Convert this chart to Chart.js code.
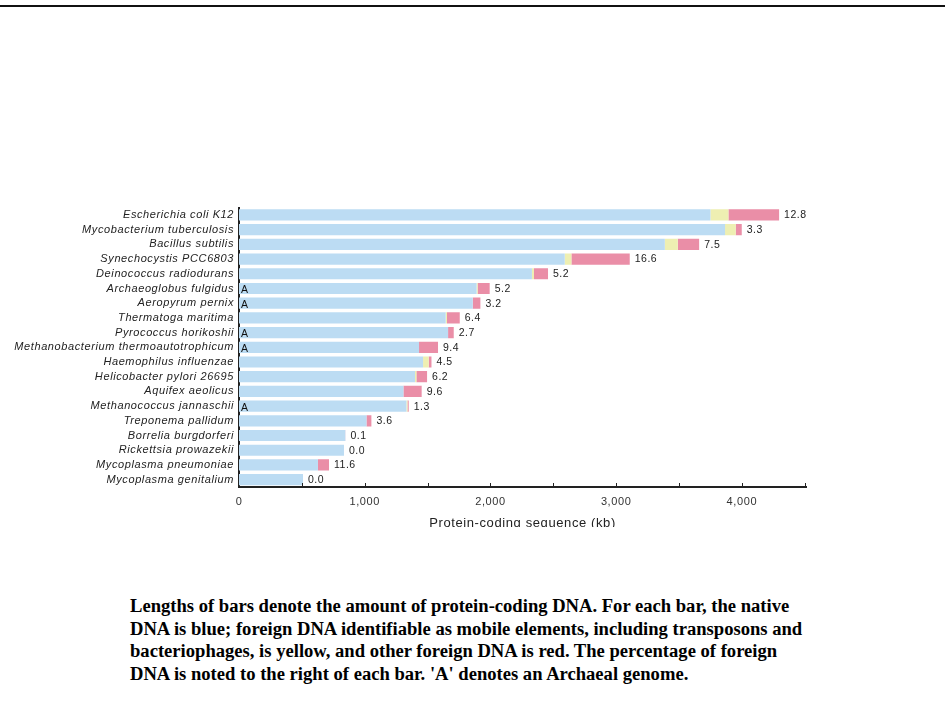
<!DOCTYPE html>
<html>
<head>
<meta charset="utf-8">
<script src="https://cdn.jsdelivr.net/npm/chart.js@4.4.1/dist/chart.umd.min.js"></script>
<style>
  body { margin: 0; background: #fff; width: 945px; height: 719px; position: relative; overflow: hidden; }
  #topRule { position: absolute; left: 0; top: 5px; width: 945px; height: 2px; background: #111; }
  #wrap { position: absolute; left: 0; top: 196px; width: 830px; height: 331px; }
  #caption {
    position: absolute; left: 130px; top: 595px; width: 760px;
    font-family: "Liberation Serif", "Times New Roman", serif; font-weight: bold;
    font-size: 18.6px; line-height: 22.5px; color: #000;
  }
</style>
</head>
<body>
<div id="topRule"></div>
<div id="wrap"><canvas id="genomeChart"></canvas></div>
<div id="caption">
Lengths of bars denote the amount of protein-coding DNA. For each bar, the native<br>
DNA is blue; foreign DNA identifiable as mobile elements, including transposons and<br>
bacteriophages, is yellow, and other foreign DNA is red. The percentage of foreign<br>
DNA is noted to the right of each bar. 'A' denotes an Archaeal genome.
</div>
<script>
const species = [
    'Escherichia coli K12', 'Mycobacterium tuberculosis', 'Bacillus subtilis',
    'Synechocystis PCC6803', 'Deinococcus radiodurans', 'Archaeoglobus fulgidus',
    'Aeropyrum pernix', 'Thermatoga maritima', 'Pyrococcus horikoshii',
    'Methanobacterium thermoautotrophicum', 'Haemophilus influenzae', 'Helicobacter pylori 26695',
    'Aquifex aeolicus', 'Methanococcus jannaschii', 'Treponema pallidum',
    'Borrelia burgdorferi', 'Rickettsia prowazekii', 'Mycoplasma pneumoniae', 'Mycoplasma genitalium'
];
// kb of protein-coding sequence
const nativeDNA = [3750, 3866, 3387, 2591, 2330, 1890, 1859, 1644, 1663, 1432, 1464, 1400, 1308, 1332, 1014, 846, 835, 628, 509];
const mobileDNA = [143, 85, 103, 53, 16, 8, 0, 10, 0, 0, 45, 11, 0, 8, 0, 0, 0, 0, 0];
const otherForeignDNA = [403, 48, 170, 464, 112, 96, 61, 102, 45, 151, 22, 85, 145, 10, 39, 1, 0, 88, 0];
const foreignPct = ['12.8', '3.3', '7.5', '16.6', '5.2', '5.2', '3.2', '6.4', '2.7', '9.4', '4.5', '6.2', '9.6', '1.3', '3.6', '0.1', '0.0', '11.6', '0.0'];
const archaea = [false, false, false, false, false, true, true, false, true, true, false, false, false, true, false, false, false, false, false];
const xTickValues = [0, 500, 1000, 1500, 2000, 2500, 3000, 3500, 4000, 4500];

const FONT = '"Liberation Sans", Arial, Helvetica, sans-serif';

// the original lettering is set a bit loose
const spacing = {
    id: 'spacing',
    beforeDraw(chart) { chart.ctx.letterSpacing = '0.6px'; }
};

// percentages, 'A' markers and inward tick marks
const annotations = {
    id: 'annotations',
    afterDatasetsDraw(chart) {
        const ctx = chart.ctx;
        const xs = chart.scales.x;
        const ys = chart.scales.y;
        ctx.save();
        ctx.letterSpacing = '0.5px';
        ctx.font = '10.5px ' + FONT;
        ctx.textBaseline = 'middle';
        species.forEach((s, i) => {
            const total = nativeDNA[i] + mobileDNA[i] + otherForeignDNA[i];
            const y = ys.getPixelForValue(i) + 0.5;
            ctx.fillStyle = '#222';
            ctx.textAlign = 'left';
            ctx.fillText(foreignPct[i], xs.getPixelForValue(total) + 5, y);
            if (archaea[i]) {
                ctx.fillStyle = '#111';
                ctx.fillText('A', xs.getPixelForValue(0) + 2, y + 1);
            }
        });
        // tick marks pointing up from the x axis
        ctx.strokeStyle = '#222';
        ctx.lineWidth = 1;
        const bottom = chart.chartArea.bottom;
        xTickValues.forEach(v => {
            if (v === 0) return;
            const px = Math.round(xs.getPixelForValue(v)) + 0.5;
            ctx.beginPath();
            ctx.moveTo(px, bottom);
            ctx.lineTo(px, bottom - 4);
            ctx.stroke();
        });
        ctx.restore();
    }
};

const ctx = document.getElementById('genomeChart').getContext('2d');
const genomeChart = new Chart(ctx, {
    type: 'bar',
    data: {
        labels: species,
        datasets: [
            { label: 'Native', data: nativeDNA, backgroundColor: '#bcdcf3' },
            { label: 'Mobile elements', data: mobileDNA, backgroundColor: '#eeefb2' },
            { label: 'Other foreign', data: otherForeignDNA, backgroundColor: '#ea8ea7' }
        ]
    },
    options: {
        indexAxis: 'y',
        responsive: true,
        maintainAspectRatio: false,
        animation: false,
        layout: { padding: { top: 3, right: 24, left: 0, bottom: 0 } },
        datasets: {
            bar: { categoryPercentage: 1, barPercentage: 0.76, borderWidth: 0 }
        },
        plugins: {
            legend: { display: false },
            tooltip: { enabled: false }
        },
        scales: {
            x: {
                stacked: true,
                min: 0,
                max: 4510,
                afterBuildTicks(scale) {
                    scale.ticks = xTickValues.map(v => ({ value: v }));
                },
                grid: { display: false, drawTicks: false },
                border: { display: true, color: '#222', width: 2 },
                ticks: {
                    autoSkip: false,
                    maxRotation: 0,
                    padding: 8,
                    color: '#333',
                    font: { family: FONT, size: 11 },
                    callback: v => (v % 1000 === 0 ? v.toLocaleString('en-US') : '')
                },
                title: {
                    display: true,
                    text: 'Protein-coding sequence (kb)',
                    color: '#222',
                    font: { family: FONT, size: 13 },
                    padding: { top: 8, bottom: -4 }
                },
                afterFit(scale) { scale.height = 40; }
            },
            y: {
                stacked: true,
                grid: { display: false, drawTicks: false },
                border: { display: true, color: '#222', width: 2 },
                ticks: {
                    autoSkip: false,
                    padding: 5,
                    color: '#222',
                    font: { family: FONT, size: 11, style: 'italic' }
                },
                afterFit(scale) { scale.width = 239; }
            }
        }
    },
    plugins: [spacing, annotations]
});
</script>
</body>
</html>
